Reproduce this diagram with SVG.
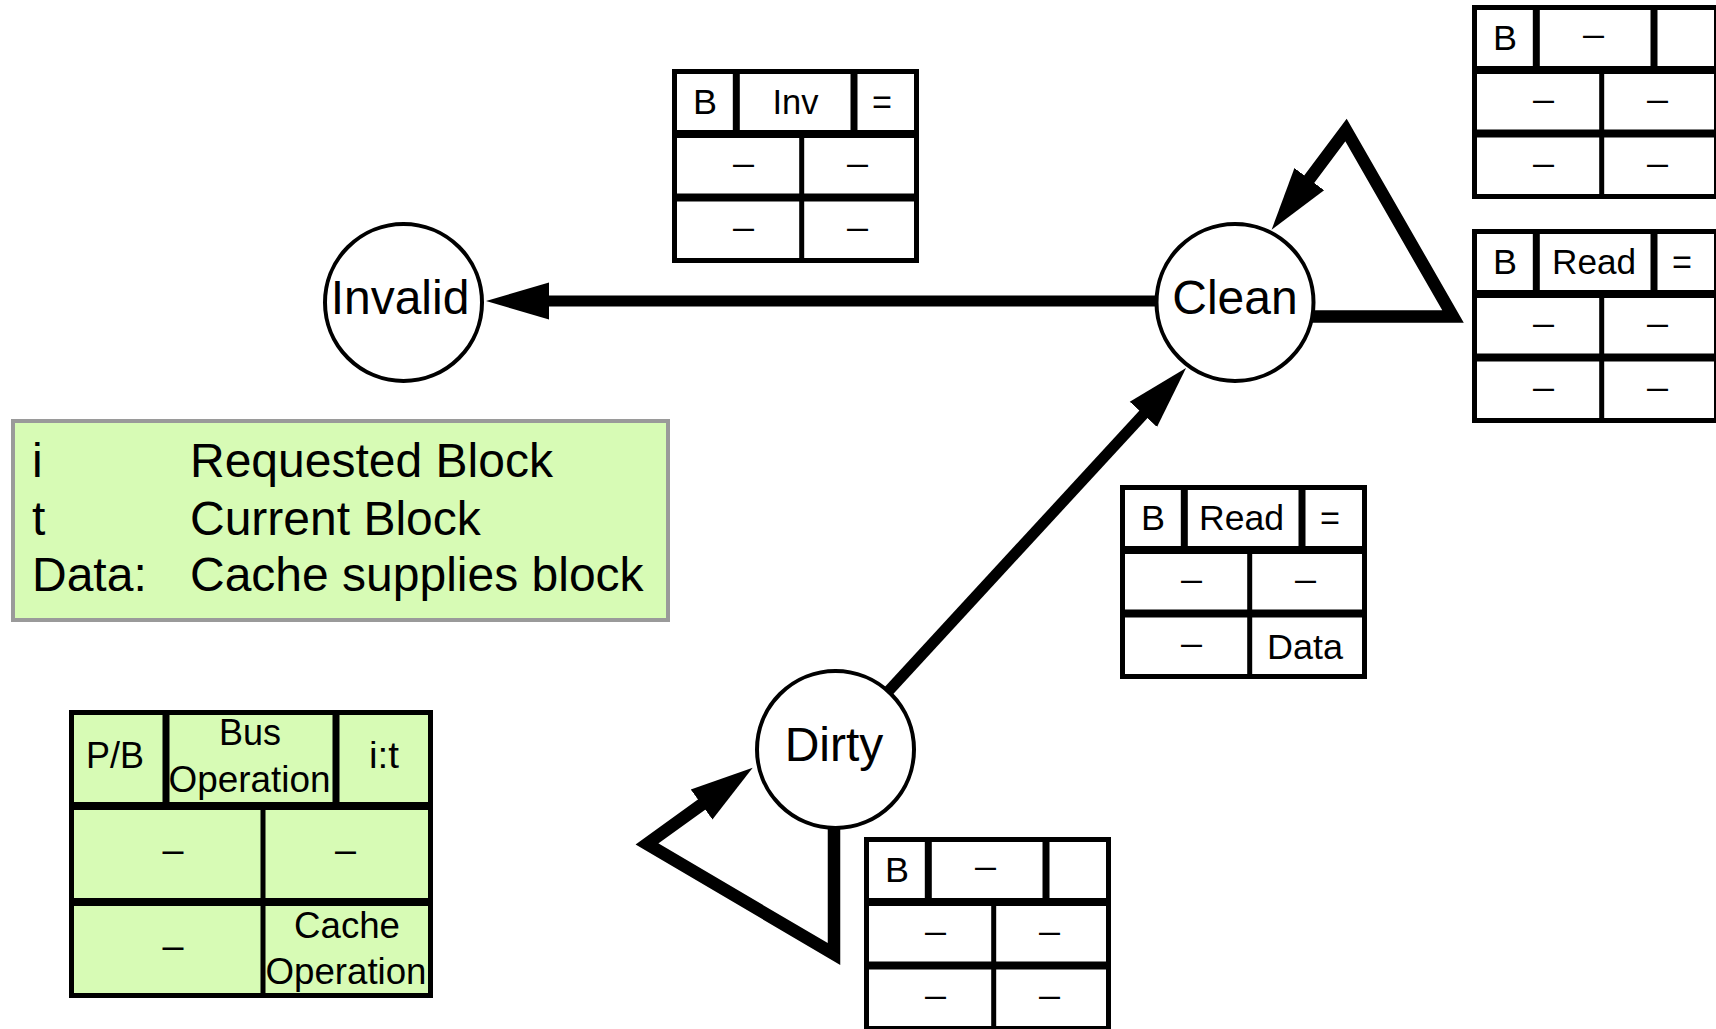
<svg xmlns="http://www.w3.org/2000/svg" width="1716" height="1029" viewBox="0 0 1716 1029">
  <style>
    text { font-family: "Liberation Sans", Arial, Helvetica, sans-serif; fill: #000; }
    .edge { fill: none; stroke: #000; stroke-width: 11; stroke-linejoin: miter; stroke-miterlimit: 6; marker-end: url(#arrowhead); }
    .edge.loop { stroke-width: 12.5; }
    .state circle { fill: #fff; stroke: #000; stroke-width: 4; }
    .state text { font-size: 48px; text-anchor: middle; }
    .tbl rect { fill: #fff; stroke: #000; stroke-width: 5; }
    .tbl line { stroke: #000; stroke-width: 8; }
    .tbl line.col { stroke-width: 7; }
    .tbl line.sub { stroke-width: 5; }
    .tbl text { font-size: 35px; text-anchor: middle; }
    .key text { font-size: 36px; }
    .key rect { fill: #d7fbb5; }
    .legend rect { fill: #d7fbb5; stroke: #9a9a9a; stroke-width: 4; }
    .legend text { font-size: 48px; }
  </style>
  <defs>
    <marker id="arrowhead" markerUnits="userSpaceOnUse" viewBox="0 -20 64 40" markerWidth="64" markerHeight="40" refX="8" refY="0" orient="auto">
      <path d="M0,-18.5 L63,0 L0,18.5 Z" fill="#000"/>
    </marker>
  </defs>

  <!-- transitions -->
  <g id="connectors">
    <path id="clean-invalid" class="edge" d="M1200,301 H541"/>
    <path id="clean-self" class="edge loop" d="M1235,316.5 H1453 L1346,130 L1304.5,185.6"/>
    <path id="dirty-clean" class="edge" d="M860,722 L1148.8,408.5"/>
    <path id="dirty-self" class="edge loop" d="M834,770 V954 L647,844 L708.1,799.9"/>
  </g>

  <!-- states -->
  <g id="state-invalid" class="state">
    <circle cx="403.5" cy="302.5" r="78.5"/>
    <text x="400" y="313.5">Invalid</text>
  </g>
  <g id="state-clean" class="state">
    <circle cx="1235" cy="302.5" r="78.5"/>
    <text x="1235" y="313.5">Clean</text>
  </g>
  <g id="state-dirty" class="state">
    <circle cx="835.5" cy="749.5" r="78.5"/>
    <text x="834" y="760.5">Dirty</text>
  </g>

  <!-- transition tables: header B | bus op | i:t, then two rows of two cells -->
  <g id="table-clean-invalid" class="tbl" transform="translate(672,69)">
    <rect x="2.5" y="2.5" width="242" height="189"/>
    <line x1="0" y1="65" x2="247" y2="65"/>
    <line x1="0" y1="128.5" x2="247" y2="128.5"/>
    <line class="col" x1="64.3" y1="0" x2="64.3" y2="65"/>
    <line class="col" x1="182" y1="0" x2="182" y2="65"/>
    <line class="sub" x1="129.7" y1="65" x2="129.7" y2="194"/>
    <text x="33" y="44.5" textLength="24" lengthAdjust="spacingAndGlyphs">B</text>
    <text x="123.5" y="44.5" textLength="46" lengthAdjust="spacingAndGlyphs">Inv</text>
    <text x="210" y="44.5" textLength="20" lengthAdjust="spacingAndGlyphs">=</text>
    <text x="71.5" y="105.5" textLength="21" lengthAdjust="spacingAndGlyphs">–</text>
    <text x="185.5" y="105.5" textLength="21" lengthAdjust="spacingAndGlyphs">–</text>
    <text x="71.5" y="169.8" textLength="21" lengthAdjust="spacingAndGlyphs">–</text>
    <text x="185.5" y="169.8" textLength="21" lengthAdjust="spacingAndGlyphs">–</text>
  </g>

  <g id="table-clean-self-bus" class="tbl" transform="translate(1472,5)">
    <rect x="2.5" y="2.5" width="242" height="189"/>
    <line x1="0" y1="65" x2="247" y2="65"/>
    <line x1="0" y1="128.5" x2="247" y2="128.5"/>
    <line class="col" x1="64.3" y1="0" x2="64.3" y2="65"/>
    <line class="col" x1="182" y1="0" x2="182" y2="65"/>
    <line class="sub" x1="129.7" y1="65" x2="129.7" y2="194"/>
    <text x="33" y="44.5" textLength="24" lengthAdjust="spacingAndGlyphs">B</text>
    <text x="121.5" y="41" textLength="21" lengthAdjust="spacingAndGlyphs">–</text>
    <text x="71.5" y="105.5" textLength="21" lengthAdjust="spacingAndGlyphs">–</text>
    <text x="185.5" y="105.5" textLength="21" lengthAdjust="spacingAndGlyphs">–</text>
    <text x="71.5" y="169.8" textLength="21" lengthAdjust="spacingAndGlyphs">–</text>
    <text x="185.5" y="169.8" textLength="21" lengthAdjust="spacingAndGlyphs">–</text>
  </g>

  <g id="table-clean-self-read" class="tbl" transform="translate(1472,229)">
    <rect x="2.5" y="2.5" width="242" height="189"/>
    <line x1="0" y1="65" x2="247" y2="65"/>
    <line x1="0" y1="128.5" x2="247" y2="128.5"/>
    <line class="col" x1="64.3" y1="0" x2="64.3" y2="65"/>
    <line class="col" x1="182" y1="0" x2="182" y2="65"/>
    <line class="sub" x1="129.7" y1="65" x2="129.7" y2="194"/>
    <text x="33" y="44.5" textLength="24" lengthAdjust="spacingAndGlyphs">B</text>
    <text x="122" y="44.5" textLength="84" lengthAdjust="spacingAndGlyphs">Read</text>
    <text x="210" y="44.5" textLength="20" lengthAdjust="spacingAndGlyphs">=</text>
    <text x="71.5" y="105.5" textLength="21" lengthAdjust="spacingAndGlyphs">–</text>
    <text x="185.5" y="105.5" textLength="21" lengthAdjust="spacingAndGlyphs">–</text>
    <text x="71.5" y="169.8" textLength="21" lengthAdjust="spacingAndGlyphs">–</text>
    <text x="185.5" y="169.8" textLength="21" lengthAdjust="spacingAndGlyphs">–</text>
  </g>

  <g id="table-dirty-clean" class="tbl" transform="translate(1120,485)">
    <rect x="2.5" y="2.5" width="242" height="189"/>
    <line x1="0" y1="65" x2="247" y2="65"/>
    <line x1="0" y1="128.5" x2="247" y2="128.5"/>
    <line class="col" x1="64.3" y1="0" x2="64.3" y2="65"/>
    <line class="col" x1="182" y1="0" x2="182" y2="65"/>
    <line class="sub" x1="129.7" y1="65" x2="129.7" y2="194"/>
    <text x="33" y="44.5" textLength="24" lengthAdjust="spacingAndGlyphs">B</text>
    <text x="121.5" y="44.5" textLength="85" lengthAdjust="spacingAndGlyphs">Read</text>
    <text x="210" y="44.5" textLength="20" lengthAdjust="spacingAndGlyphs">=</text>
    <text x="71.5" y="105.5" textLength="21" lengthAdjust="spacingAndGlyphs">–</text>
    <text x="185.5" y="105.5" textLength="21" lengthAdjust="spacingAndGlyphs">–</text>
    <text x="71.5" y="169.8" textLength="21" lengthAdjust="spacingAndGlyphs">–</text>
    <text x="185" y="174" textLength="76" lengthAdjust="spacingAndGlyphs">Data</text>
  </g>

  <g id="table-dirty-self" class="tbl" transform="translate(864,837)">
    <rect x="2.5" y="2.5" width="242" height="189"/>
    <line x1="0" y1="65" x2="247" y2="65"/>
    <line x1="0" y1="128.5" x2="247" y2="128.5"/>
    <line class="col" x1="64.3" y1="0" x2="64.3" y2="65"/>
    <line class="col" x1="182" y1="0" x2="182" y2="65"/>
    <line class="sub" x1="129.7" y1="65" x2="129.7" y2="194"/>
    <text x="33" y="44.5" textLength="24" lengthAdjust="spacingAndGlyphs">B</text>
    <text x="121.5" y="41" textLength="21" lengthAdjust="spacingAndGlyphs">–</text>
    <text x="71.5" y="105.5" textLength="21" lengthAdjust="spacingAndGlyphs">–</text>
    <text x="185.5" y="105.5" textLength="21" lengthAdjust="spacingAndGlyphs">–</text>
    <text x="71.5" y="169.8" textLength="21" lengthAdjust="spacingAndGlyphs">–</text>
    <text x="185.5" y="169.8" textLength="21" lengthAdjust="spacingAndGlyphs">–</text>
  </g>

  <!-- legend -->
  <g id="legend" class="legend">
    <rect x="13" y="421" width="655" height="199"/>
    <text x="32" y="477">i</text>
    <text x="190" y="477">Requested Block</text>
    <text x="32" y="534.5">t</text>
    <text x="190" y="534.5">Current Block</text>
    <text x="32" y="591">Data:</text>
    <text x="190" y="591">Cache supplies block</text>
  </g>

  <!-- key explaining the table fields -->
  <g id="table-key" class="tbl key">
    <rect x="71.5" y="712.5" width="359" height="283"/>
    <line x1="69" y1="806" x2="433" y2="806"/>
    <line x1="69" y1="902" x2="433" y2="902"/>
    <line class="col" x1="166" y1="710" x2="166" y2="806"/>
    <line class="col" x1="336" y1="710" x2="336" y2="806"/>
    <line class="sub" x1="263" y1="806" x2="263" y2="998"/>
    <text x="115" y="768" textLength="58" lengthAdjust="spacingAndGlyphs">P/B</text>
    <text x="250" y="745" textLength="62" lengthAdjust="spacingAndGlyphs">Bus</text>
    <text x="249.5" y="792" textLength="162" lengthAdjust="spacingAndGlyphs">Operation</text>
    <text x="384" y="768" textLength="30" lengthAdjust="spacingAndGlyphs">i:t</text>
    <text x="173" y="862" textLength="21" lengthAdjust="spacingAndGlyphs">–</text>
    <text x="345.5" y="862" textLength="21" lengthAdjust="spacingAndGlyphs">–</text>
    <text x="173" y="958" textLength="21" lengthAdjust="spacingAndGlyphs">–</text>
    <text x="347" y="938" textLength="106" lengthAdjust="spacingAndGlyphs">Cache</text>
    <text x="346" y="984" textLength="161" lengthAdjust="spacingAndGlyphs">Operation</text>
  </g>
</svg>
